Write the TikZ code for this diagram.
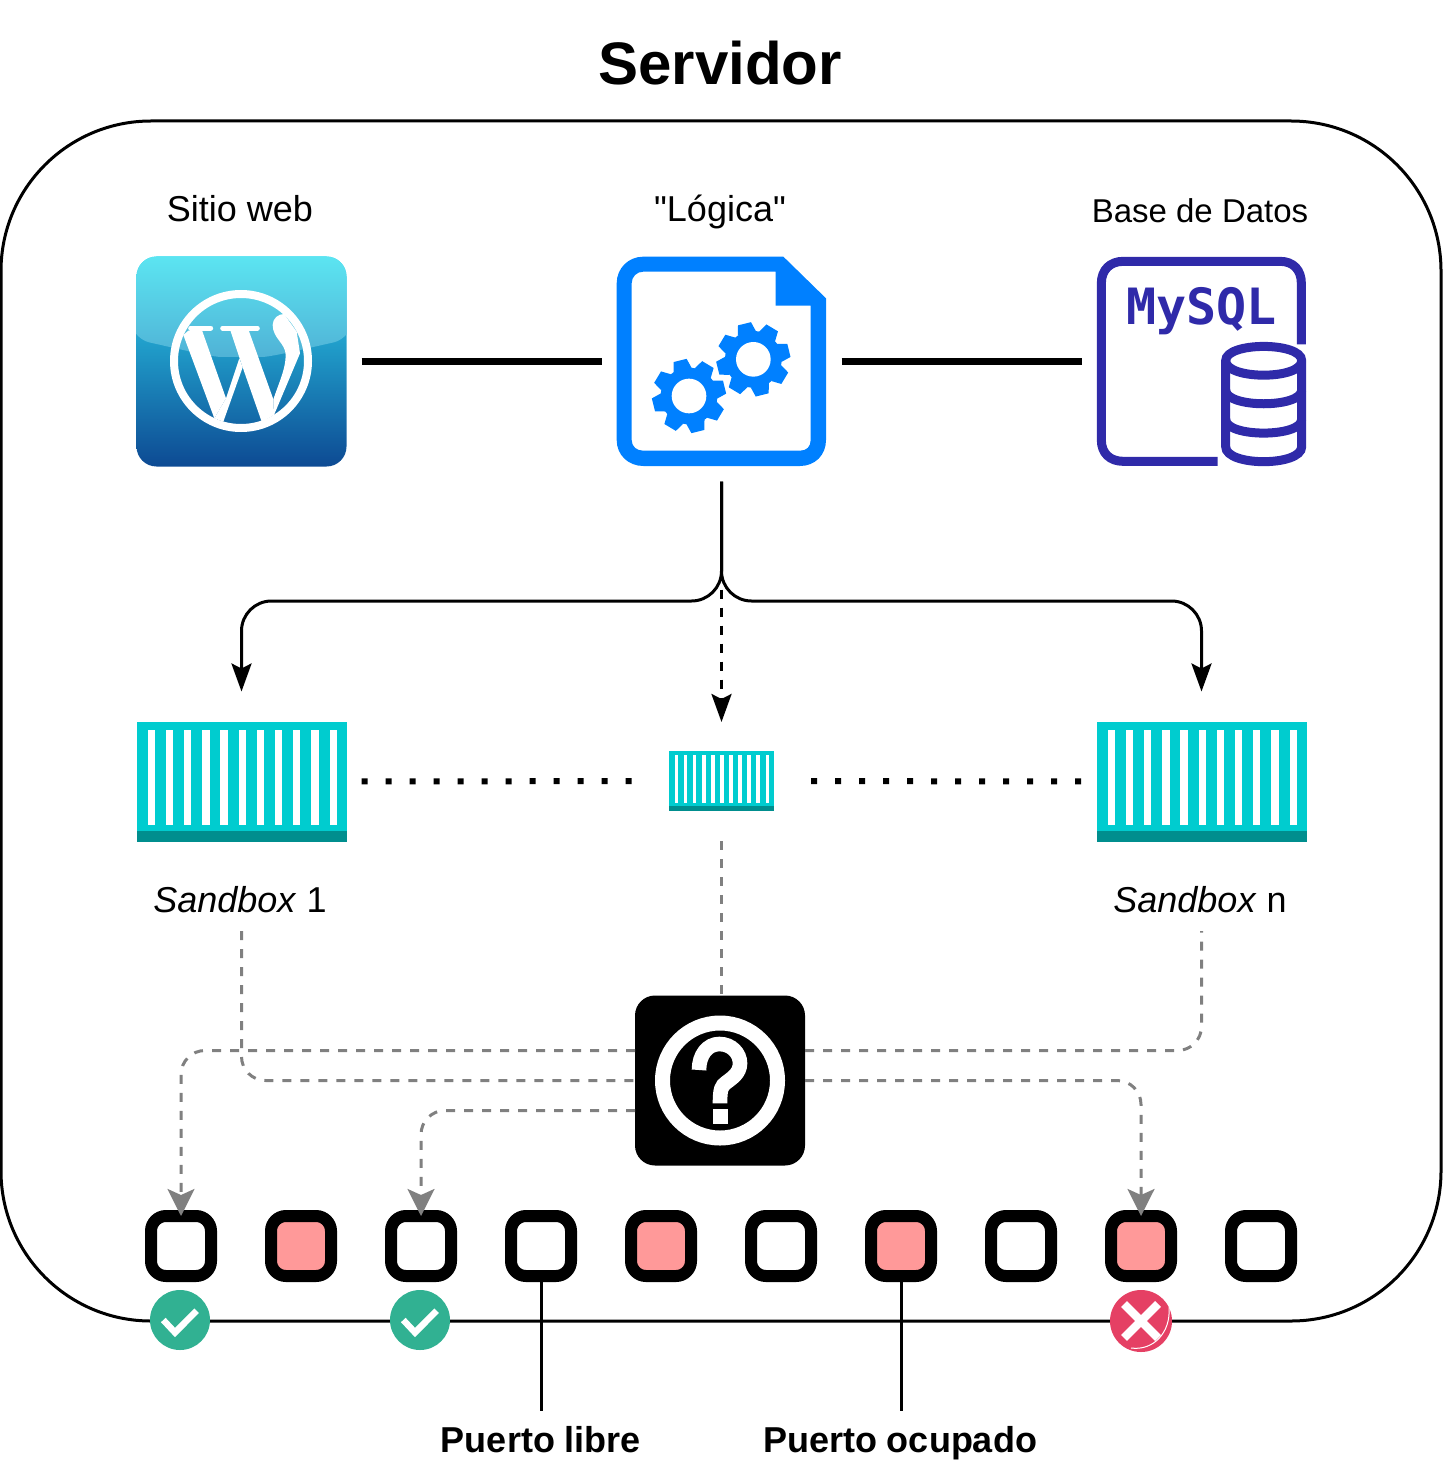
\documentclass[tikz,border=0pt]{standalone}
\usepackage{fontspec}
\setmainfont{Liberation Sans}
\newfontfamily\plainfont{Liberation Sans}
\newfontfamily\dbfont{DejaVu Sans Mono}
\usetikzlibrary{arrows.meta}

\definecolor{wpTop}{HTML}{2ED9F1}
\definecolor{wpBottom}{HTML}{0D4A93}
\definecolor{wpGlossTop}{HTML}{5CE8F3}
\definecolor{wpGlossBottom}{HTML}{50B2D6}
\definecolor{logicBlue}{HTML}{0080FF}
\definecolor{dbBlue}{HTML}{2F2AA9}
\definecolor{boxTeal}{HTML}{00CCCF}
\definecolor{boxBand}{HTML}{008E8E}
\definecolor{linkGray}{HTML}{808080}
\definecolor{usedPort}{HTML}{FF9999}
\definecolor{okGreen}{HTML}{31B192}
\definecolor{badRed}{HTML}{E54064}

\newcommand{\gearicon}[2]{
	\fill [logicBlue] (#1,#2) circle [radius=85];
	\foreach \a in {14,59,104,149,194,239,284,329}
		\fill [logicBlue, shift={(#1,#2)}, rotate=\a] (80,-28) -- (110,-20) -- (110,20) -- (80,28) -- cycle;
	\fill [white] (#1,#2) circle [radius=52];
}
\newcommand{\slatsicon}[2]{
	\begin{scope}[shift={(#1.north west)}, scale=#2]
		\fill [boxBand] (0,109.5) rectangle (210,120);
		\foreach \s in {0,...,10}
			\fill [white] ({11.3+18.17*\s},8.3) rectangle ++(7.3,95);
	\end{scope}
}

\begin{document}
\begin{tikzpicture}[
	x=0.5pt, y=-0.5pt,
	every path/.style={line width=1.5pt},
	zoomed/.style={x=0.16667pt, y=-0.16667pt},
	heading/.style={font=\fontsize{30}{34}\selectfont\bfseries, text height=22pt, text depth=0pt},
	caption/.style={font=\fontsize{18}{22}\selectfont, text height=12pt, text depth=0pt},
	smallcaption/.style={font=\fontsize{16.5}{20}\selectfont, text height=12pt, text depth=0pt},
	boxcaption/.style={caption, minimum height=31pt, inner sep=0pt, outer sep=0pt},
	portcaption/.style={font=\fontsize{18}{22}\selectfont\bfseries, text height=12pt, text depth=0pt, minimum height=29pt, inner sep=0pt, outer sep=0pt},
	icon/.style={minimum size=105pt, inner sep=0pt, outer sep=0pt},
	container/.style={fill=boxTeal, minimum width=105pt, minimum height=60pt, inner sep=0pt, outer sep=0pt},
	freeport/.style={draw, line width=6pt, fill=white, rounded corners=7.5pt, minimum size=30pt, inner sep=0pt},
	usedport/.style={freeport, fill=usedPort},
	badge/.style={circle, minimum size=30pt, inner sep=0pt, outer sep=0pt},
	wire/.style={line width=3pt, shorten <=7.5pt, shorten >=7.5pt},
	dots/.style={line width=3pt, dash pattern=on 3pt off 9pt},
	branch/.style={rounded corners=15pt, shorten <=7.5pt, shorten >=15pt, -{Stealth[length=14pt, width=10pt, inset=2.5pt]}},
	graylink/.style={linkGray, dash pattern=on 4.5pt off 4.5pt},
	grayarrow/.style={graylink, rounded corners=12pt, shorten >=-3pt, -{Stealth[length=13.5pt, width=13.5pt, inset=3pt]}},
]
	\useasboundingbox (0,0) rectangle (1443,1476);

	\node [heading] (title) at (720,63) {Servidor};
	\node [draw, rounded corners=75pt, minimum width=720pt, minimum height=600pt] (server) at (721,721) {};

	\node [caption] (webname) at (240,210) {Sitio web};
	\node [caption] (logicname) at (720,210) {\plainfont "Lógica"};
	\node [smallcaption] (dbname) at (1200,211) {Base de Datos};

	% icons
	\node [icon, rounded corners=10pt, top color=wpTop, bottom color=wpBottom] (web) at (241.5,361.5) {};
	\node [icon] (logic) at (721.5,361.5) {};
	\node [icon] (mysql) at (1201.5,361.5) {};

	\begin{scope}[every path/.style={}, rounded corners=10pt]
		\clip (web.north west) rectangle (web.south east);
		\shade [top color=wpGlossTop, bottom color=wpGlossBottom] (130,250) -- (353,250) -- (353,338)
			.. controls (300,350) and (270,357) .. (241.5,357) .. controls (213,357) and (183,350) .. (130,338) -- cycle;
	\end{scope}
	\draw [white, line width=4pt] (241,361) circle [radius=67];
	\begin{scope}[shift={(120,240)}, zoomed]
		\fill [white] (190,285) -- (205,272) -- (245,268) -- (318,475) -- (283,535) -- cycle;
		\fill [white] (318,475) -- (358,355) -- (368,382) -- (310,545) -- (283,535) -- cycle;
		\fill [white] (330,268) -- (385,268) -- (460,478) -- (462,525) -- (425,545) -- (368,382) -- cycle;
		\fill [white] (460,478) .. controls (480,420) and (497,385) .. (497,345)
			.. controls (497,310) and (458,295) .. (458,255) .. controls (458,235) and (475,222) .. (492,222)
			-- (530,275) -- (540,340) -- (462,525) -- cycle;
		\draw [white, line width=2.5pt, line cap=round] (212,264) -- (272,264);
		\draw [white, line width=2.5pt, line cap=round] (308,264) -- (412,264);
	\end{scope}

	\begin{scope}[shift={(600,240)}, zoomed]
		\fill [logicBlue, even odd rule]
			(130,50) -- (550,50) -- (678,175) -- (678,600) .. controls (678,645) and (645,678) .. (600,678)
			-- (130,678) .. controls (85,678) and (50,645) .. (50,600) -- (50,130) .. controls (50,85) and (85,50) .. (130,50) -- cycle
			(130,95) -- (527,95) -- (527,197) -- (632,197) -- (632,600) .. controls (632,620) and (620,632) .. (600,632)
			-- (130,632) .. controls (110,632) and (95,620) .. (95,600) -- (95,130) .. controls (95,110) and (110,95) .. (130,95) -- cycle;
		\gearicon{267}{468}
		\gearicon{460}{358}
	\end{scope}

	\begin{scope}[shift={(1080,240)}, zoomed]
		\draw [dbBlue, line width=4.5pt] (413,664) -- (130,664) .. controls (90,664) and (64,640) .. (64,600)
			-- (64,130) .. controls (64,90) and (90,64) .. (130,64) -- (600,64) .. controls (640,64) and (664,90) .. (664,130) -- (664,313);
		\draw [dbBlue, line width=4.5pt, fill=white] (437,362) .. controls (437,305) and (665,305) .. (665,362)
			-- (665,620) .. controls (665,680) and (437,680) .. (437,620) -- cycle;
		\draw [dbBlue, line width=4.5pt] (437,362) .. controls (437,420) and (665,420) .. (665,362);
		\draw [dbBlue, line width=4.5pt] (437,450) .. controls (437,505) and (665,505) .. (665,450);
		\draw [dbBlue, line width=4.5pt] (437,538) .. controls (437,593) and (665,593) .. (665,538);
	\end{scope}
	\node [anchor=base, dbBlue, inner sep=0pt, font=\dbfont\bfseries\fontsize{25}{28}\selectfont] (mysqlname) at (1201.5,325) {MySQL};

	\draw [wire] (web.east) -- (logic.west);
	\draw [wire] (logic.east) -- (mysql.west);

	% sandboxes
	\node [container] (sandboxA) at (241.5,781.5) {};
	\node [container, minimum width=52.5pt, minimum height=30pt] (sandboxM) at (721.5,781) {};
	\node [container] (sandboxN) at (1201.5,781.5) {};
	\slatsicon{sandboxA}{1}
	\slatsicon{sandboxM}{0.5}
	\slatsicon{sandboxN}{1}

	\node [boxcaption] (nameA) at (240,900) {\textit{Sandbox} 1};
	\node [boxcaption] (nameN) at (1200,900) {\textit{Sandbox} n};

	\coordinate (busA) at (241.5,601);
	\coordinate (busN) at (1201.5,601);
	\draw [branch] (logic.south) |- (busA) -- (sandboxA.north);
	\draw [branch] (logic.south) |- (busN) -- (sandboxN.north);
	\draw [dash pattern=on 4.5pt off 4.5pt, shorten <=7.5pt, shorten >=14.5pt, -{Stealth[length=14pt, width=10pt, inset=2.5pt]}] (logic.south) -- (sandboxM.north);

	\draw [dots, shorten <=7.5pt, shorten >=16.5pt] (sandboxA.east) -- (sandboxM.west);
	\draw [dots, shorten <=18.5pt, shorten >=5pt] (sandboxM.east) -- (sandboxN.west);

	% help box
	\node [fill=black, rounded corners=10pt, minimum size=85pt, inner sep=0pt, outer sep=0pt] (help) at (720,1080.5) {};
	\draw [white, line width=7.5pt] (help.center) circle [radius=57.5];
	\begin{scope}[shift={(620,980)}, zoomed]
		\draw [white, line width=7.3pt] (237,270) .. controls (237,225) and (262,192) .. (298,192)
			.. controls (335,192) and (360,220) .. (360,250) .. controls (360,280) and (335,295) .. (318,308)
			.. controls (305,318) and (300,325) .. (300,370);
		\fill [white] (278,388) rectangle (325,432);
	\end{scope}

	% ports
	\node [freeport] (p1) at (181,1246) {};
	\node [usedport] (p2) at (301,1246) {};
	\node [freeport] (p3) at (421,1246) {};
	\node [freeport] (p4) at (541,1246) {};
	\node [usedport] (p5) at (661,1246) {};
	\node [freeport] (p6) at (781,1246) {};
	\node [usedport] (p7) at (901,1246) {};
	\node [freeport] (p8) at (1021,1246) {};
	\node [usedport] (p9) at (1141,1246) {};
	\node [freeport] (p10) at (1261,1246) {};

	\node [badge, fill=okGreen] (ok1) at (180,1320) {};
	\node [badge, fill=okGreen] (ok3) at (420,1320) {};
	\node [badge, fill=badRed, minimum size=31pt] (bad9) at (1141,1321) {};
	\draw [white, line width=3.2pt] ([shift={(-16.7,0)}]ok1.center) -- ([shift={(-5,12.5)}]ok1.center) -- ([shift={(16.7,-9.3)}]ok1.center);
	\draw [white, line width=3.2pt] ([shift={(-16.7,0)}]ok3.center) -- ([shift={(-5,12.5)}]ok3.center) -- ([shift={(16.7,-9.3)}]ok3.center);
	\draw [white, line width=4.2pt] ([shift={(-17,-17)}]bad9.center) -- ([shift={(17,17)}]bad9.center);
	\draw [white, line width=4.2pt] ([shift={(-17,17)}]bad9.center) -- ([shift={(17,-17)}]bad9.center);
	\draw [white, line width=0.5pt] ([shift={(-10,27)}]bad9.center) .. controls ([shift={(12,30)}]bad9.center) and ([shift={(30,12)}]bad9.center) .. ([shift={(28,-14)}]bad9.center);

	\node [portcaption] (freename) at (541,1440) {Puerto libre};
	\node [portcaption] (usedname) at (900,1440) {Puerto ocupado};
	\draw (p4.south) -- (p4.south |- freename.north);
	\draw (p7.south) -- (p7.south |- usedname.north);

	% gray links
	\draw [graylink, shorten <=15pt] (sandboxM.south) -- (sandboxM.south |- help.north);
	\draw [graylink, rounded corners=12pt] (nameA.south -| sandboxA.south) |- (help.west);
	\draw [graylink, rounded corners=12pt] ([yshift=15pt]help.east) -| (nameN.south -| sandboxN.south);
	\draw [grayarrow] ([yshift=15pt]help.west) -| (p1.north);
	\draw [grayarrow] ([yshift=-15pt]help.west) -| (p3.north);
	\draw [grayarrow] (help.east) -| (p9.north);
\end{tikzpicture}
\end{document}
